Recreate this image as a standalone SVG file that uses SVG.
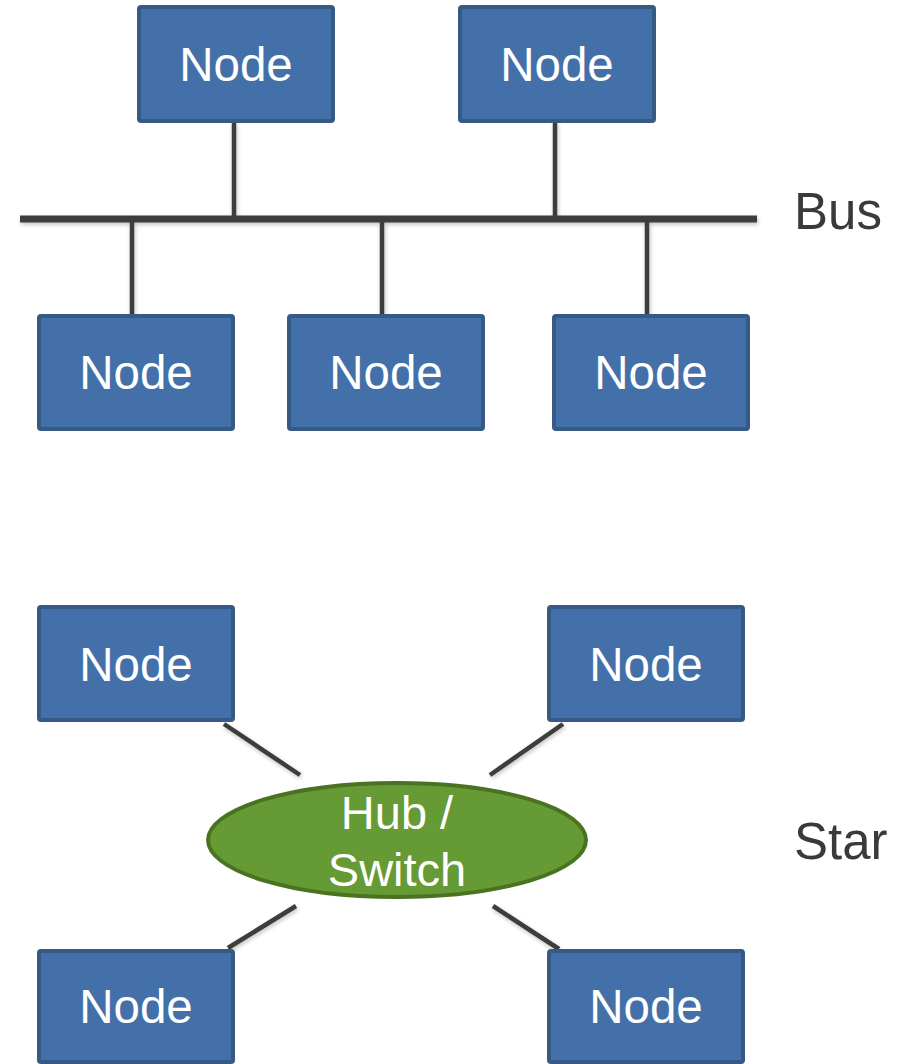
<svg xmlns="http://www.w3.org/2000/svg" width="900" height="1064" viewBox="0 0 900 1064">
<defs>
<filter id="sh" x="-20%" y="-20%" width="140%" height="140%">
<feGaussianBlur in="SourceAlpha" stdDeviation="2"/>
<feOffset dx="1" dy="2" result="b"/>
<feComponentTransfer><feFuncA type="linear" slope="0.25"/></feComponentTransfer>
<feMerge><feMergeNode/><feMergeNode in="SourceGraphic"/></feMerge>
</filter>
</defs>
<style>
.node rect{fill:#4470a9;stroke:#375a84;stroke-width:4}
.node text{fill:#fff;font-family:"Liberation Sans",Arial,sans-serif;font-size:47.5px;text-anchor:middle}
.wire{stroke:#3c3c3c;stroke-width:4.5;fill:none}
.lbl{fill:#3a3a3a;font-family:"Liberation Sans",Arial,sans-serif;font-size:51px}
</style>
<rect width="900" height="1064" fill="#fff"/>
<g id="connectors" filter="url(#sh)">
<line class="wire" x1="20" y1="219" x2="757" y2="219" style="stroke-width:7"/>
<line class="wire" x1="234" y1="122" x2="234" y2="217"/>
<line class="wire" x1="555" y1="122" x2="555" y2="217"/>
<line class="wire" x1="132" y1="221" x2="132" y2="315"/>
<line class="wire" x1="382" y1="221" x2="382" y2="315"/>
<line class="wire" x1="647" y1="221" x2="647" y2="315"/>
<line class="wire" x1="224" y1="724" x2="300" y2="775"/>
<line class="wire" x1="563" y1="724" x2="490" y2="775"/>
<line class="wire" x1="296" y1="906" x2="228" y2="948"/>
<line class="wire" x1="493" y1="906" x2="559" y2="949"/>
</g>
<g id="n1" class="node"><rect x="139" y="7" width="194" height="114" rx="2"/><text x="236" y="81">Node</text></g>
<g id="n2" class="node"><rect x="460" y="7" width="194" height="114" rx="2"/><text x="557" y="81">Node</text></g>
<g id="n3" class="node"><rect x="39" y="316" width="194" height="113" rx="2"/><text x="136" y="389">Node</text></g>
<g id="n4" class="node"><rect x="289" y="316" width="194" height="113" rx="2"/><text x="386" y="389">Node</text></g>
<g id="n5" class="node"><rect x="554" y="316" width="194" height="113" rx="2"/><text x="651" y="389">Node</text></g>
<g id="n6" class="node"><rect x="39" y="607" width="194" height="113" rx="2"/><text x="136" y="681">Node</text></g>
<g id="n7" class="node"><rect x="549" y="607" width="194" height="113" rx="2"/><text x="646" y="681">Node</text></g>
<g id="n8" class="node"><rect x="39" y="951" width="194" height="111" rx="2"/><text x="136" y="1023">Node</text></g>
<g id="n9" class="node"><rect x="549" y="951" width="194" height="111" rx="2"/><text x="646" y="1023">Node</text></g>
<g id="hub">
<ellipse cx="397" cy="840" rx="189" ry="57" fill="#659a35" stroke="#4a7321" stroke-width="4"/>
<text x="397" y="829" fill="#fff" font-family="Liberation Sans, Arial, sans-serif" font-size="47" text-anchor="middle">Hub /</text>
<text x="397" y="886" fill="#fff" font-family="Liberation Sans, Arial, sans-serif" font-size="47" text-anchor="middle">Switch</text>
</g>
<text class="lbl" x="794" y="229">Bus</text>
<text class="lbl" x="794" y="859">Star</text>
</svg>
